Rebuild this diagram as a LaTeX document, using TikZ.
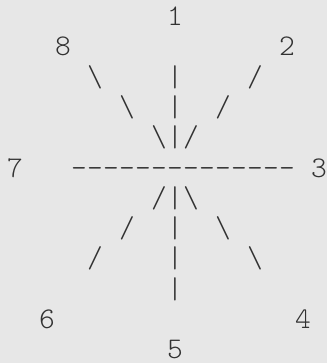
\documentclass[tikz,border=0pt]{standalone}
\usepackage{fontspec}
\setmonofont{Latin Modern Mono Light}
\usepackage{xcolor}
\usepackage{tikz}
\definecolor{PageGray}{RGB}{231, 231, 231}
\definecolor{InkGray}{RGB}{50, 50, 50}

\tikzset{
    glyph/.style={text=InkGray, inner sep=0pt, anchor=base, font=\ttfamily\fontsize{22.5}{27}\selectfont}
}

\begin{document}
\begin{tikzpicture}[x=0.75pt, y=-0.75pt]
    % 背景
    \fill[PageGray] (0,0) rectangle (327,363);
    \useasboundingbox (0,0) rectangle (327,363);

    % 编号 (列, 行)
    \node[glyph] (n1) at ({15+16*10},{25.5+30.3*0})  {1};
    \node[glyph] (n2) at ({15+16*17},{25.5+30.3*1})  {2};
    \node[glyph] (n3) at ({15+16*19},{25.5+30.3*5})  {3};
    \node[glyph] (n4) at ({15+16*18},{25.5+30.3*10}) {4};
    \node[glyph] (n5) at ({15+16*10},{25.5+30.3*11}) {5};
    \node[glyph] (n6) at ({15+16*2},{25.5+30.3*10})  {6};
    \node[glyph] (n7) at ({15+16*0},{25.5+30.3*5})   {7};
    \node[glyph] (n8) at ({15+16*3},{25.5+30.3*1})   {8};

    % 竖线
    \foreach \r in {2,3,4,6,7,8,9}
        \node[glyph] (bar-\r) at ({15+16*10},{25.5+30.3*\r}) {|};

    % 反斜线
    \foreach \c/\r in {5/2, 7/3, 9/4, 11/6, 13/7, 15/8}
        \node[glyph] (bsl-\c-\r) at ({15+16*\c},{25.5+30.3*\r}) {\textbackslash};

    % 斜线
    \foreach \c/\r in {15/2, 13/3, 11/4, 9/6, 7/7, 5/8}
        \node[glyph] (sl-\c-\r) at ({15+16*\c},{25.5+30.3*\r}) {/};

    % 横线 (7 -- 3)
    \foreach \c in {4,...,17}
        \node[glyph] (dash-\c) at ({15+16*\c},{25.5+30.3*5}) {-};
\end{tikzpicture}
\end{document}
